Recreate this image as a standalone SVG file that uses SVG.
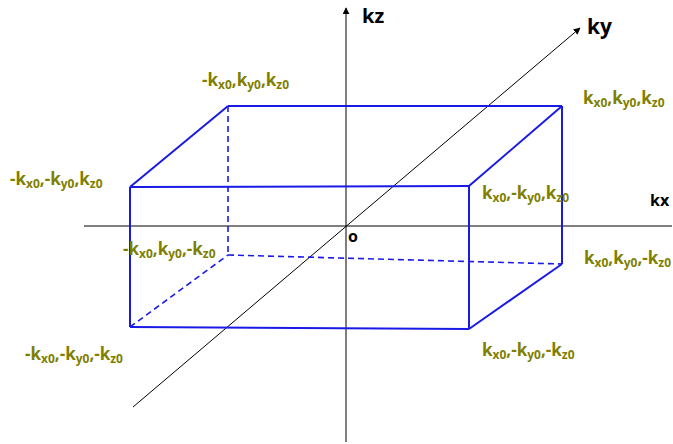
<svg xmlns="http://www.w3.org/2000/svg" width="673" height="444" viewBox="0 0 673 444">
<style>
.ax{stroke:#000;stroke-width:1;fill:none}
.e{stroke:#1a1ae6;stroke-width:2;fill:none}
.d{stroke:#1a1ae6;stroke-width:1.6;fill:none;stroke-dasharray:6 4}
.lb{font-family:"Open Sans","Noto Sans",sans-serif;font-weight:bold;font-size:17px;fill:#7f7f00}
.s{font-size:12px}
.al{font-family:"Open Sans","Noto Sans",sans-serif;font-weight:bold;fill:#000}
</style>
<defs>
<marker id="ar" viewBox="0 0 10 10" refX="9" refY="5" markerWidth="7" markerHeight="7" orient="auto" markerUnits="userSpaceOnUse">
<path d="M0,0 L10,5 L0,10 Z" fill="#000"/>
</marker>
</defs>
<rect width="673" height="444" fill="#fff"/>
<g id="axes">
<line class="ax" x1="84" y1="226" x2="672" y2="226"/>
<line class="ax" x1="346" y1="442" x2="346" y2="8" marker-end="url(#ar)"/>
<line class="ax" x1="133" y1="407" x2="580" y2="28" marker-end="url(#ar)"/>
</g>
<g id="connectors">
<line class="e" x1="130" y1="187" x2="469" y2="186"/>
<line class="e" x1="469" y1="186" x2="469" y2="329"/>
<line class="e" x1="130" y1="327" x2="469" y2="329"/>
<line class="e" x1="130" y1="187" x2="130" y2="327"/>
<line class="e" x1="130" y1="187" x2="228" y2="106"/>
<line class="e" x1="228" y1="106" x2="562" y2="106"/>
<line class="e" x1="469" y1="186" x2="562" y2="106"/>
<line class="e" x1="562" y1="106" x2="562" y2="264"/>
<line class="e" x1="469" y1="329" x2="562" y2="264"/>
<line class="d" x1="228" y1="106" x2="228" y2="255"/>
<line class="d" x1="228" y1="255" x2="562" y2="264"/>
<line class="d" x1="130" y1="327" x2="228" y2="255"/>
</g>
<g id="axis-labels">
<text class="al" x="362" y="23" font-size="20">kz</text>
<text class="al" x="587" y="34" font-size="21">ky</text>
<text class="al" x="650" y="206" font-size="16">kx</text>
<text class="al" x="348" y="242" font-size="16">o</text>
</g>
<g id="n1"><text class="lb" x="202" y="86">-k<tspan class="s" dy="3">x0</tspan><tspan dy="-3">,k</tspan><tspan class="s" dy="3">y0</tspan><tspan dy="-3">,k</tspan><tspan class="s" dy="3">z0</tspan></text></g>
<g id="n2"><text class="lb" x="10" y="185">-k<tspan class="s" dy="3">x0</tspan><tspan dy="-3">,-k</tspan><tspan class="s" dy="3">y0</tspan><tspan dy="-3">,k</tspan><tspan class="s" dy="3">z0</tspan></text></g>
<g id="n3"><text class="lb" x="583" y="104">k<tspan class="s" dy="3">x0</tspan><tspan dy="-3">,k</tspan><tspan class="s" dy="3">y0</tspan><tspan dy="-3">,k</tspan><tspan class="s" dy="3">z0</tspan></text></g>
<g id="n4"><text class="lb" x="482" y="199">k<tspan class="s" dy="3">x0</tspan><tspan dy="-3">,-k</tspan><tspan class="s" dy="3">y0</tspan><tspan dy="-3">,k</tspan><tspan class="s" dy="3">z0</tspan></text></g>
<g id="n5"><text class="lb" x="123" y="255">-k<tspan class="s" dy="3">x0</tspan><tspan dy="-3">,k</tspan><tspan class="s" dy="3">y0</tspan><tspan dy="-3">,-k</tspan><tspan class="s" dy="3">z0</tspan></text></g>
<g id="n6"><text class="lb" x="584" y="264">k<tspan class="s" dy="3">x0</tspan><tspan dy="-3">,k</tspan><tspan class="s" dy="3">y0</tspan><tspan dy="-3">,-k</tspan><tspan class="s" dy="3">z0</tspan></text></g>
<g id="n7"><text class="lb" x="25" y="360">-k<tspan class="s" dy="3">x0</tspan><tspan dy="-3">,-k</tspan><tspan class="s" dy="3">y0</tspan><tspan dy="-3">,-k</tspan><tspan class="s" dy="3">z0</tspan></text></g>
<g id="n8"><text class="lb" x="482" y="356">k<tspan class="s" dy="3">x0</tspan><tspan dy="-3">,-k</tspan><tspan class="s" dy="3">y0</tspan><tspan dy="-3">,-k</tspan><tspan class="s" dy="3">z0</tspan></text></g>
</svg>
